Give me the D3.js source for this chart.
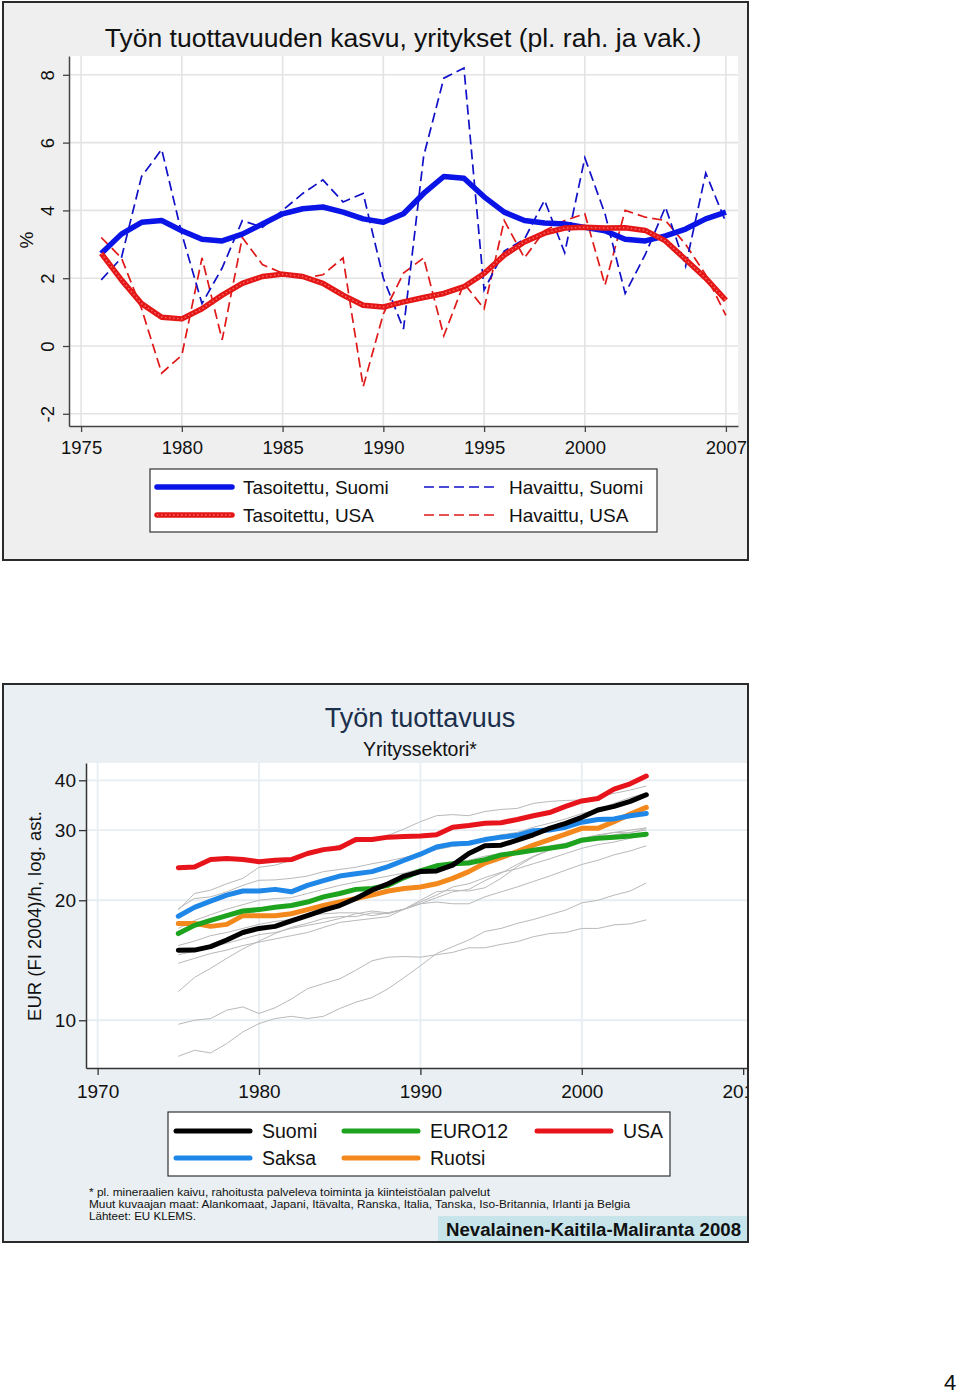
<!DOCTYPE html>
<html><head><meta charset="utf-8">
<script src="https://cdn.jsdelivr.net/npm/d3@7"></script>
<style>
html,body{margin:0;padding:0;background:#fff;}
svg{display:block;font-family:"Liberation Sans",Arial,Helvetica,sans-serif;}
</style></head>
<body>
<svg id="c" width="960" height="1394"></svg>
<script>
// ---------- DATA: top chart ----------
const topYears = [1976,1977,1978,1979,1980,1981,1982,1983,1984,1985,1986,1987,1988,1989,1990,1991,
  1992,1993,1994,1995,1996,1997,1998,1999,2000,2001,2002,2003,2004,2005,2006,2007];
const finObserved = [1.95,2.6,5.0,5.8,3.3,1.25,2.3,3.7,3.5,4.0,4.5,4.9,4.25,4.5,2.0,0.5,
  5.6,7.9,8.2,1.65,2.8,3.15,4.3,2.75,5.55,3.9,1.55,2.7,4.1,2.35,5.1,3.65];
const usaObserved = [3.2,2.6,1.1,-0.8,-0.27,2.6,0.18,3.2,2.4,2.15,2.0,2.1,2.6,-1.2,0.95,2.15,
  2.6,0.3,1.85,1.1,3.7,2.6,3.4,3.7,3.9,1.8,4.0,3.8,3.7,3.0,2.1,0.9];
const finSmoothed = [2.73,3.3,3.65,3.7,3.4,3.15,3.1,3.3,3.6,3.9,4.05,4.1,3.95,3.75,3.65,3.9,
  4.5,5.0,4.95,4.4,3.95,3.7,3.63,3.6,3.5,3.4,3.15,3.1,3.25,3.45,3.75,3.95];
const usaSmoothed = [2.73,1.95,1.25,0.85,0.8,1.1,1.5,1.85,2.05,2.12,2.05,1.85,1.5,1.2,1.15,1.3,
  1.43,1.55,1.75,2.14,2.68,3.07,3.33,3.48,3.5,3.48,3.49,3.41,3.1,2.55,2.0,1.35];
const topXTicks = [1975,1980,1985,1990,1995,2000,2007];
const topYTicks = [-2,0,2,4,6,8];
const topLegend = ["Tasoitettu, Suomi","Tasoitettu, USA","Havaittu, Suomi","Havaittu, USA"];

// ---------- DATA: bottom chart ----------
const botYears = [1975,1976,1977,1978,1979,1980,1981,1982,1983,1984,1985,1986,1987,1988,1989,
  1990,1991,1992,1993,1994,1995,1996,1997,1998,1999,2000,2001,2002,2003,2004];
const suomi  = [14.98,15.0,15.3,15.9,16.6,17.0,17.2,17.75,18.3,18.9,19.4,20.2,21.2,22.0,23.0,
  23.6,23.7,24.5,26.2,27.4,27.5,28.3,29.2,30.3,31.2,32.3,33.7,34.4,35.4,36.8];
const saksa  = [18.24,19.2,19.9,20.6,21.1,21.1,21.3,21.0,21.8,22.4,23.0,23.3,23.6,24.3,25.2,
  26.1,27.2,27.7,27.8,28.4,28.8,29.1,29.9,30.0,30.5,31.4,31.9,32.0,32.6,33.0];
const euro12 = [16.5,17.3,17.8,18.3,18.8,18.95,19.2,19.4,19.8,20.4,20.8,21.3,21.4,21.8,22.8,
  23.7,24.4,24.7,24.8,25.3,26.0,26.3,26.7,27.0,27.4,28.3,28.6,28.8,29.0,29.3];
const ruotsi = [17.5,17.5,17.2,17.4,18.3,18.3,18.3,18.5,18.95,19.4,19.8,20.2,20.6,21.1,21.4,
  21.6,22.0,22.7,23.6,24.8,25.6,26.5,27.5,28.4,29.3,30.3,30.3,31.5,32.9,34.2];
const usa    = [24.15,24.25,25.3,25.45,25.3,25.0,25.2,25.3,26.2,26.8,27.1,28.4,28.4,28.8,28.9,
  29.0,29.2,30.5,30.8,31.2,31.3,31.9,32.6,33.2,34.4,35.5,36.0,38.0,39.2,41.0];
// other countries (thin grey lines)
const other1 = [18.9,20.8,21.2,22.0,22.7,24.2,24.5,25.2,26.0,26.7,27.5,28.0,28.3,29.1,30.2,
  31.5,32.6,32.8,32.6,33.4,33.8,34.0,35.0,35.4,35.6,35.7,36.4,37.1,37.8,38.7];
const other2 = [19.05,20.2,20.4,21.0,21.8,22.45,22.5,22.7,23.0,23.6,23.9,24.2,24.7,25.1,25.6,
  26.2,26.8,27.3,27.6,28.5,29.2,29.6,30.5,31.2,32.0,33.0,33.8,35.0,36.2,37.2];
const other3 = [15.4,15.8,16.3,16.6,17.0,17.4,17.7,17.9,18.3,18.5,18.6,18.6,18.3,18.6,19.0,
  19.6,20.3,21.0,21.3,22.4,23.4,24.6,25.8,26.8,27.6,28.6,29.2,29.6,29.5,30.3];
const other4 = [13.9,14.3,14.7,15.0,15.4,15.7,16.0,16.3,16.6,17.1,17.6,17.8,18.0,18.2,19.0,
  20.0,21.0,21.2,21.1,21.5,22.7,24.3,25.7,26.7,27.5,28.0,28.6,29.2,29.6,30.0];
const other5 = [11.8,12.8,13.5,14.3,15.1,15.8,16.5,17.1,17.5,18.0,18.2,18.2,18.6,18.5,19.0,
  19.8,20.6,21.6,22.0,22.8,23.5,24.0,24.7,25.4,26.2,27.0,27.6,28.0,28.6,29.2];
const other6 = [9.77,10.0,10.1,10.6,10.8,10.4,10.75,11.3,12.0,12.36,12.7,13.35,14.1,14.4,14.45,
  14.4,14.6,14.8,15.2,15.2,15.5,15.75,16.2,16.5,16.6,17.0,17.0,17.35,17.45,17.86];
const other7 = [8.12,8.41,8.28,8.74,9.35,9.81,10.1,10.23,10.1,10.23,10.7,11.1,11.4,12.0,12.8,
  13.7,14.7,15.3,15.9,16.7,17.0,17.5,17.9,18.4,18.9,19.7,20.0,20.6,21.1,22.1];
const other8 = [17.0,17.8,18.4,19.0,19.5,20.0,20.2,20.3,20.8,21.3,21.8,22.2,22.6,23.0,23.4,
  24.0,24.5,24.8,25.2,25.8,26.2,26.6,27.0,27.4,27.8,28.6,29.0,29.6,30.0,30.4];
const other9 = [14.6,14.9,15.3,15.6,16.0,16.4,16.6,17.0,17.3,17.6,18.0,18.5,18.8,18.6,19.0,
  19.6,19.8,19.6,19.6,20.4,21.0,21.6,22.3,23.0,23.8,24.6,25.2,26.0,26.6,27.4];
const botXTicks = [1970,1980,1990,2000,2010];
const botYTicks = [10,20,30,40];
const botLegend = ["Suomi","EURO12","USA","Saksa","Ruotsi"];

// ---------- DRAW ----------
const svg = d3.select("#c");
const FONT = '"Liberation Sans",Arial,Helvetica,sans-serif';

// ===== TOP CHART =====
const gTop = svg.append("g");
gTop.append("rect").attr("x",3).attr("y",2).attr("width",745).attr("height",558)
  .attr("fill","#efefef").attr("stroke","#2a2a2a").attr("stroke-width",2);
const TL=69, TR=738, TT=56, TB=426;
gTop.append("rect").attr("x",TL).attr("y",TT).attr("width",TR-TL).attr("height",TB-TT).attr("fill","#fff");
const xT = d3.scaleLinear().domain([1974.4,2007.6]).range([TL,TR]);
const yT = d3.scaleLinear().domain([-2.36,8.555]).range([TB,TT]);

// grid
gTop.append("g").selectAll("line").data(topYTicks).join("line")
  .attr("x1",TL).attr("x2",TR).attr("y1",d=>yT(d)).attr("y2",d=>yT(d))
  .attr("stroke","#e3e3e3").attr("stroke-width",1.6);
gTop.append("g").selectAll("line").data(topXTicks).join("line")
  .attr("x1",d=>xT(d)).attr("x2",d=>xT(d)).attr("y1",TT).attr("y2",TB)
  .attr("stroke","#e3e3e3").attr("stroke-width",1.6);

gTop.append("text").attr("x",403).attr("y",47).attr("text-anchor","middle")
  .attr("font-size",26.5).attr("fill","#111").text("Työn tuottavuuden kasvu, yritykset (pl. rah. ja vak.)");

// axes
const axT = gTop.append("g").attr("transform",`translate(0,${TB})`)
  .call(d3.axisBottom(xT).tickValues(topXTicks).tickFormat(d3.format("d")).tickSize(6).tickSizeOuter(0));
axT.select(".domain").attr("stroke","#444").attr("stroke-width",1.5);
axT.selectAll(".tick line").attr("stroke","#444").attr("stroke-width",1.3);
axT.selectAll("text").attr("font-family",FONT).attr("font-size",18.5).attr("fill","#111").attr("dy","1.05em");

const ayT = gTop.append("g").attr("transform",`translate(${TL},0)`)
  .call(d3.axisLeft(yT).tickValues(topYTicks).tickFormat(d=>String(d)).tickSize(6).tickSizeOuter(0));
ayT.select(".domain").attr("stroke","#444").attr("stroke-width",1.5);
ayT.selectAll(".tick line").attr("stroke","#444").attr("stroke-width",1.3);
ayT.selectAll("text").attr("font-family",FONT).attr("font-size",18.5).attr("fill","#111")
  .attr("x",0).attr("y",0).attr("dy",0).attr("text-anchor","middle")
  .attr("transform","translate(-15,0) rotate(-90)");
gTop.append("text").attr("transform","translate(33,240) rotate(-90)").attr("text-anchor","middle")
  .attr("font-size",19).attr("fill","#111").text("%");

const lineT = arr => d3.line().x((d,i)=>xT(topYears[i])).y(d=>yT(d))(arr);
gTop.append("path").attr("d",lineT(usaObserved)).attr("fill","none")
  .attr("stroke","#e01818").attr("stroke-width",1.7).attr("stroke-dasharray","10,5");
gTop.append("path").attr("d",lineT(finObserved)).attr("fill","none")
  .attr("stroke","#1010c8").attr("stroke-width",1.7).attr("stroke-dasharray","10,5");
gTop.append("path").attr("d",lineT(finSmoothed)).attr("fill","none")
  .attr("stroke","#0a14e6").attr("stroke-width",5.5).attr("stroke-linejoin","round");
gTop.append("path").attr("d",lineT(usaSmoothed)).attr("fill","none")
  .attr("stroke","#e51616").attr("stroke-width",5.5).attr("stroke-linejoin","round");
gTop.append("path").attr("d",lineT(usaSmoothed)).attr("fill","none")
  .attr("stroke","#f46a6a").attr("stroke-width",1.4).attr("stroke-dasharray","1.5,2.5");

// top legend
const lg = gTop.append("g");
lg.append("rect").attr("x",150).attr("y",469).attr("width",507).attr("height",63)
  .attr("fill","#fff").attr("stroke","#333").attr("stroke-width",1.2);
const tlItems = [
  {x1:157,x2:232,y:487,c:"#0a14e6",w:5.5,dash:null,t:topLegend[0],tx:243},
  {x1:157,x2:232,y:515,c:"#e51616",w:5.5,dash:null,t:topLegend[1],tx:243,dots:true},
  {x1:424,x2:498,y:487,c:"#1010c8",w:1.7,dash:"10,5",t:topLegend[2],tx:509},
  {x1:424,x2:498,y:515,c:"#e01818",w:1.7,dash:"10,5",t:topLegend[3],tx:509}];
tlItems.forEach(d=>{
  lg.append("line").attr("x1",d.x1).attr("x2",d.x2).attr("y1",d.y).attr("y2",d.y)
    .attr("stroke",d.c).attr("stroke-width",d.w).attr("stroke-linecap",d.dash?"butt":"round")
    .attr("stroke-dasharray",d.dash);
  if(d.dots) lg.append("line").attr("x1",d.x1).attr("x2",d.x2).attr("y1",d.y).attr("y2",d.y)
    .attr("stroke","#f46a6a").attr("stroke-width",1.4).attr("stroke-dasharray","1.5,2.5");
  lg.append("text").attr("x",d.tx).attr("y",d.y+7).attr("font-size",19).attr("fill","#111").text(d.t);
});

// ===== BOTTOM CHART =====
const gBot = svg.append("g");
svg.append("defs").append("clipPath").attr("id","bclip").append("rect")
  .attr("x",4).attr("y",685).attr("width",743).attr("height",556);
gBot.append("rect").attr("x",3).attr("y",684).attr("width",745).attr("height",558)
  .attr("fill","#e9eff3");
const bin = gBot.append("g").attr("clip-path","url(#bclip)");
const BL=86, BR=748, BT=763, BB=1068;
bin.append("rect").attr("x",BL).attr("y",BT).attr("width",BR-BL).attr("height",BB-BT).attr("fill","#fff");
const xB = d3.scaleLinear().domain([1969.28,2010.3]).range([BL,BR]);
const yB = d3.scaleLog().domain([7.59,44.2]).range([BB,BT]);

bin.append("g").selectAll("line").data(botYTicks).join("line")
  .attr("x1",BL).attr("x2",BR).attr("y1",d=>yB(d)).attr("y2",d=>yB(d))
  .attr("stroke","#e7edf1").attr("stroke-width",1.8);
bin.append("g").selectAll("line").data(botXTicks.slice(0,4)).join("line")
  .attr("x1",d=>xB(d)).attr("x2",d=>xB(d)).attr("y1",BT).attr("y2",BB)
  .attr("stroke","#e7edf1").attr("stroke-width",1.8);

bin.append("text").attr("x",420).attr("y",727).attr("text-anchor","middle")
  .attr("font-size",27).attr("fill","#1c2f4c").text("Työn tuottavuus");
bin.append("text").attr("x",420).attr("y",756).attr("text-anchor","middle")
  .attr("font-size",19.5).attr("fill","#111").text("Yrityssektori*");

const axB = bin.append("g").attr("transform",`translate(0,${BB})`)
  .call(d3.axisBottom(xB).tickValues(botXTicks).tickFormat(d3.format("d")).tickSize(7).tickSizeOuter(0));
axB.select(".domain").attr("stroke","#333").attr("stroke-width",1.5);
axB.selectAll(".tick line").attr("stroke","#333").attr("stroke-width",1.3);
axB.selectAll("text").attr("font-family",FONT).attr("font-size",19).attr("fill","#111").attr("dy","1.05em");

const ayB = bin.append("g").attr("transform",`translate(${BL},0)`)
  .call(d3.axisLeft(yB).tickValues(botYTicks).tickFormat(d3.format("d")).tickSize(7).tickSizeOuter(0));
ayB.select(".domain").attr("stroke","#333").attr("stroke-width",1.5);
ayB.selectAll(".tick line").attr("stroke","#333").attr("stroke-width",1.3);
ayB.selectAll("text").attr("font-family",FONT).attr("font-size",19).attr("fill","#111").attr("x",-10);

bin.append("text").attr("transform","translate(41,916) rotate(-90)").attr("text-anchor","middle")
  .attr("font-size",18.5).attr("fill","#111").text("EUR (FI 2004)/h, log. ast.");

const lineB = arr => d3.line().x((d,i)=>xB(botYears[i])).y(d=>yB(d))(arr);
[other1,other2,other3,other4,other5,other6,other7,other8,other9].forEach(a=>{
  bin.append("path").attr("d",lineB(a)).attr("fill","none").attr("stroke","#b9b9b9").attr("stroke-width",1);
});
const mainSeries = [
  {v:ruotsi,c:"#f3891d"},{v:euro12,c:"#1ea31e"},{v:saksa,c:"#1f87e8"},
  {v:suomi,c:"#000000"},{v:usa,c:"#e8141b"}];
mainSeries.forEach(s=>{
  bin.append("path").attr("d",lineB(s.v)).attr("fill","none").attr("stroke",s.c)
    .attr("stroke-width",5).attr("stroke-linejoin","round").attr("stroke-linecap","round");
});

// bottom legend
bin.append("rect").attr("x",168).attr("y",1112).attr("width",502).attr("height",64)
  .attr("fill","#fff").attr("stroke","#333").attr("stroke-width",1.2);
const blItems = [
  {x:176,y:1131,c:"#000000",t:botLegend[0]},
  {x:344,y:1131,c:"#1ea31e",t:botLegend[1]},
  {x:537,y:1131,c:"#e8141b",t:botLegend[2]},
  {x:176,y:1158,c:"#1f87e8",t:botLegend[3]},
  {x:344,y:1158,c:"#f3891d",t:botLegend[4]}];
blItems.forEach(d=>{
  bin.append("line").attr("x1",d.x).attr("x2",d.x+74).attr("y1",d.y).attr("y2",d.y)
    .attr("stroke",d.c).attr("stroke-width",5).attr("stroke-linecap","round");
  bin.append("text").attr("x",d.x+86).attr("y",d.y+7).attr("font-size",19.5).attr("fill","#111").text(d.t);
});

// footnotes
const notes = [
  {t:"* pl. mineraalien kaivu, rahoitusta palveleva toiminta ja kiinteistöalan palvelut", y:1196, w:401},
  {t:"Muut kuvaajan maat: Alankomaat, Japani, Itävalta, Ranska, Italia, Tanska, Iso-Britannia, Irlanti ja Belgia", y:1208, w:541},
  {t:"Lähteet: EU KLEMS.", y:1220, w:107}];
notes.forEach(n=>{
  bin.append("text").attr("x",89).attr("y",n.y).attr("font-size",11.5).attr("fill","#111")
    .attr("textLength",n.w).attr("lengthAdjust","spacingAndGlyphs").text(n.t);
});
bin.append("rect").attr("x",438).attr("y",1216).attr("width",310).attr("height",26).attr("fill","#c6e4e9");
bin.append("text").attr("x",446).attr("y",1236).attr("font-size",18).attr("font-weight","bold")
  .attr("fill","#111").attr("textLength",295).attr("lengthAdjust","spacingAndGlyphs")
  .text("Nevalainen-Kaitila-Maliranta 2008");

gBot.append("rect").attr("x",3).attr("y",684).attr("width",745).attr("height",558)
  .attr("fill","none").attr("stroke","#2a2a2a").attr("stroke-width",2);

// page number
svg.append("text").attr("x",950).attr("y",1390).attr("text-anchor","middle")
  .attr("font-size",22).attr("fill","#111").text("4");
</script>
</body></html>
